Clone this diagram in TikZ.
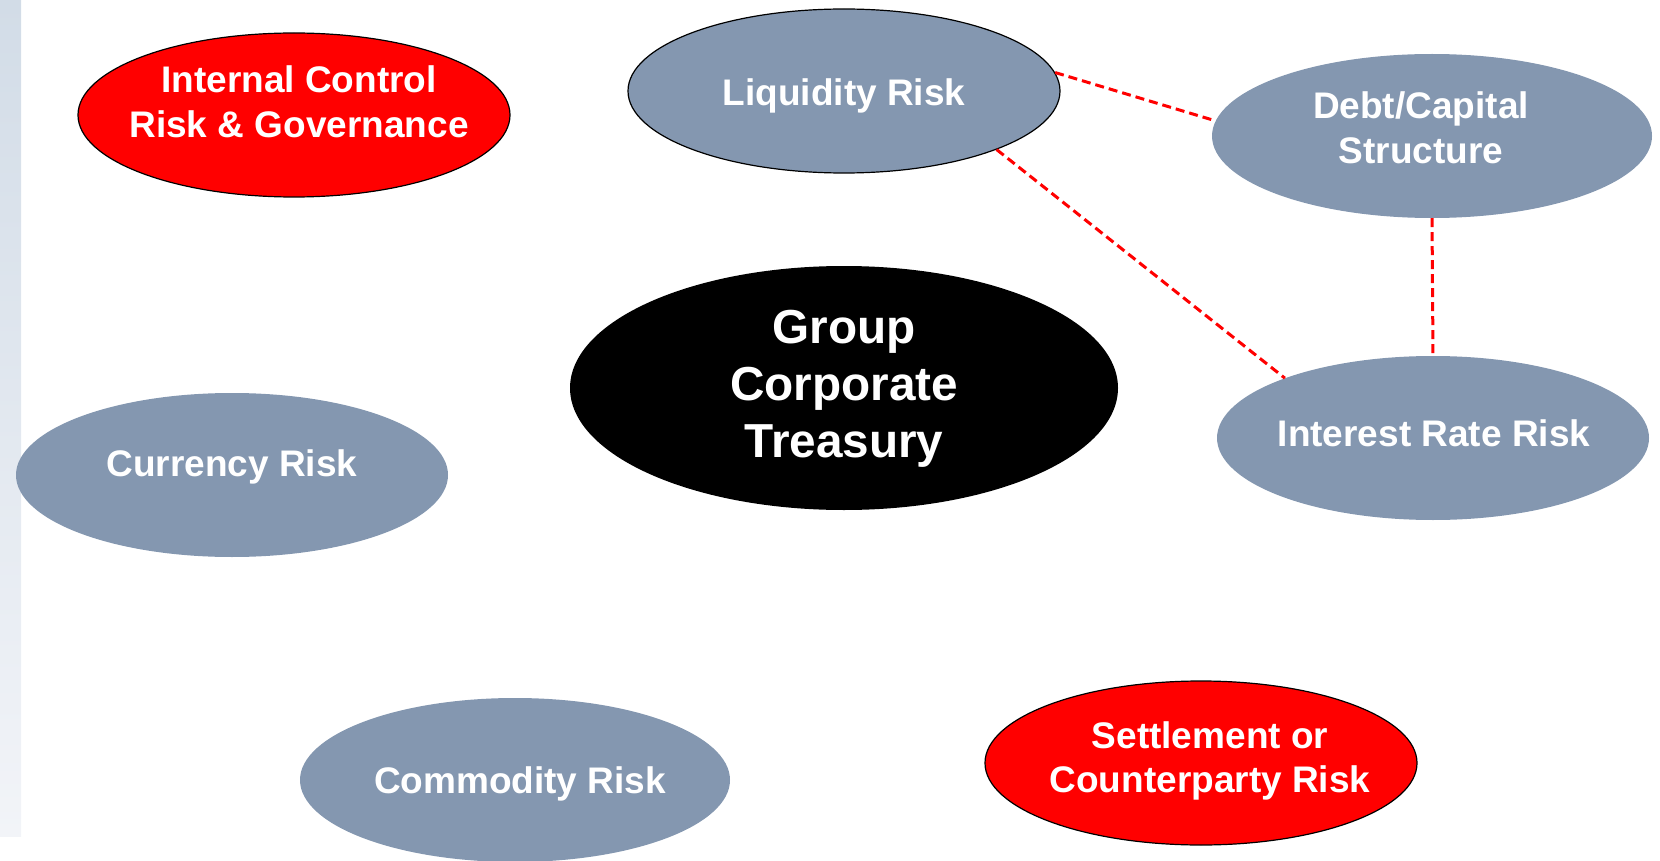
\documentclass[tikz,border=0pt]{standalone}
\usepackage{fontspec}
\setmainfont{Liberation Sans}
\usetikzlibrary{shapes.geometric}

\definecolor{riskblue}{HTML}{8497B0}
\definecolor{riskred}{HTML}{FF0000}
\definecolor{striptop}{HTML}{D2DCE7}
\definecolor{stripbot}{HTML}{F2F4F8}

\tikzset{
  risk/.style={ellipse, fill=riskblue, inner sep=0pt,
    minimum width=432pt, minimum height=164pt},
  outlined/.style={draw=black, line width=1.2pt},
  alert/.style={risk, fill=riskred, outlined},
  caption/.style={text=white, align=center, inner sep=0pt,
    font=\bfseries\fontsize{37}{44.5}\selectfont},
  link/.style={draw=riskred, line width=3pt, dash pattern=on 9pt off 5pt}
}

\begin{document}
\begin{tikzpicture}[x=1pt,y=-1pt]

  % Fix the canvas to the reference size
  \useasboundingbox (0,0) rectangle (1660,861);

  % Pale strip along the left edge
  \shade[top color=striptop, bottom color=stripbot] (0,0) rectangle (21,836);

  % The risk ellipses
  \node[alert] (ctrl) at (294,115) {};
  \node[risk, outlined] (liq) at (844,91) {};
  \node[risk, minimum width=440pt] (debt) at (1432,136) {};
  \node[risk] (rate) at (1433,438) {};
  \node[risk] (fx) at (232,475) {};
  \node[risk, minimum width=430pt] (comm) at (515,780) {};
  \node[alert] (settle) at (1201,763) {};

  % The treasury in the middle
  \node[ellipse, fill=black, inner sep=0pt,
    minimum width=548pt, minimum height=244pt] (gct) at (844,388) {};

  % Dashed links between related risks
  \draw[link] (liq.5) -- (debt.176);
  \draw[link] (liq.-21) -- (rate.158);
  \draw[link] (debt.south) -- (rate.north);

  % Labels
  \node[caption] (ctrl-t) at (299,102) {Internal Control\\Risk \& Governance};
  \node[caption] (liq-t) at (844,96) {Liquidity Risk};
  \node[caption] (debt-t) at (1421,128) {Debt/Capital\\Structure};
  \node[caption] (rate-t) at (1434,433) {Interest Rate Risk};
  \node[caption] (fx-t) at (232,467) {Currency Risk};
  \node[caption] (comm-t) at (520,784) {Commodity Risk};
  \node[caption] (settle-t) at (1210,761) {Settlement or\\Counterparty Risk};
  \node[caption, font=\bfseries\fontsize{47.7}{57}\selectfont]
    (gct-t) at (844,389) {Group\\Corporate\\Treasury};

\end{tikzpicture}
\end{document}
